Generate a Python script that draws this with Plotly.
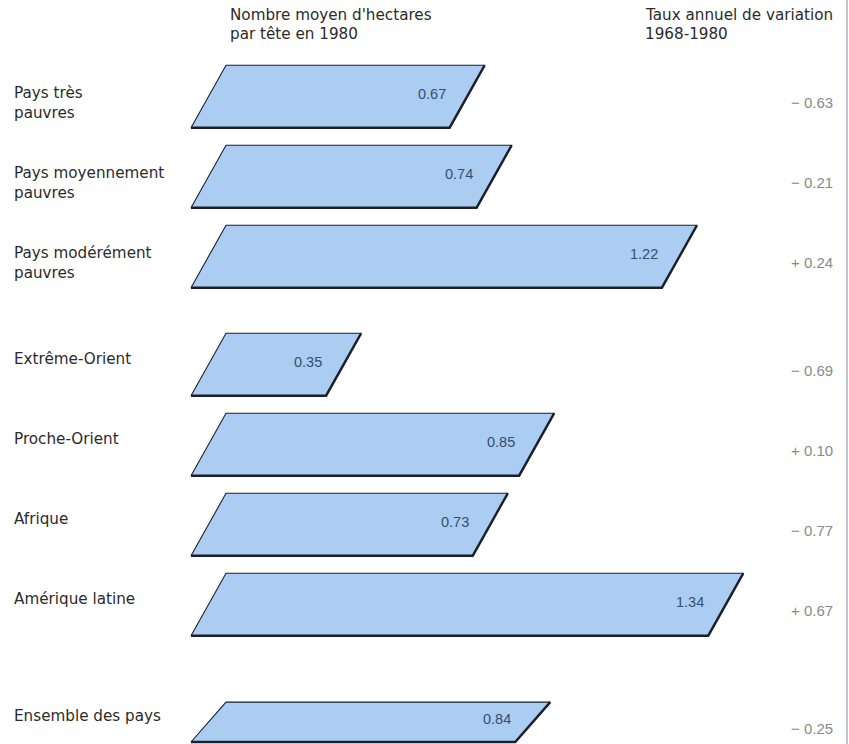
import plotly.graph_objects as go

# Hectares per head in 1980 and annual rate of change 1968-1980
categories = [
    "Pays très<br>pauvres",
    "Pays moyennement<br>pauvres",
    "Pays modérément<br>pauvres",
    "Extrême-Orient",
    "Proche-Orient",
    "Afrique",
    "Amérique latine",
    "Ensemble des pays",
]
hectares = [0.67, 0.74, 1.22, 0.35, 0.85, 0.73, 1.34, 0.84]
variation = [-0.63, -0.21, 0.24, -0.69, 0.10, -0.77, 0.67, -0.25]
groups = [0, 0, 0, 1, 1, 1, 1, 2]

W, H = 849, 744
PX_PER_HA = 386.0          # horizontal scale
X0_PX = 226.0              # pixel of x = 0 (top-left corner of bars)
ROW_PX = 80.0              # row pitch
FIRST_ROW_PX = 96.5
GROUP_OFFSET = [0.0, 0.35, 0.96]
SLANT = 35.0 / PX_PER_HA   # horizontal slant of the parallelograms
HALF = 0.39                # half bar height in row units
BOTTOM_LIMIT = (742 - FIRST_ROW_PX) / ROW_PX   # lowest edge a bar may reach

FILL = "#aacdf1"
EDGE = "#1c1f2a"
VALUE_COL = "#34506f"
LABEL_COL = "#2b2b2b"
RATE_COL = "#8a8a8a"
LABEL_FONT = "DejaVu Sans"
LABEL_SIZE = 15.2

xr = [-X0_PX / PX_PER_HA, (W - X0_PX) / PX_PER_HA]
yr = [(H - FIRST_ROW_PX) / ROW_PX, -FIRST_ROW_PX / ROW_PX]

rows = [i + GROUP_OFFSET[g] for i, g in enumerate(groups)]

fig = go.Figure()
annotations = []

for cat, v, rate, yc in zip(categories, hectares, variation, rows):
    top = yc - HALF
    bot = min(yc + HALF, BOTTOM_LIMIT)
    mid = (top + bot) / 2
    # parallelogram body
    fig.add_trace(go.Scatter(
        x=[-SLANT, 0, v, v - SLANT, -SLANT],
        y=[bot, top, top, bot, bot],
        mode="lines", fill="toself", fillcolor=FILL,
        line=dict(color=EDGE, width=1.1),
        hoverinfo="skip", showlegend=False,
    ))
    # heavier bottom and right edges
    fig.add_trace(go.Scatter(
        x=[v, v - SLANT, -SLANT],
        y=[top, bot, bot],
        mode="lines", line=dict(color=EDGE, width=2.4),
        hoverinfo="skip", showlegend=False,
    ))
    # value inside the bar
    annotations.append(dict(
        x=v, y=mid, xref="x", yref="y", text=f"{v:.2f}",
        xanchor="right", yanchor="middle", xshift=-37, yshift=3,
        showarrow=False,
        font=dict(family="Liberation Sans", size=14.5, color=VALUE_COL),
    ))
    # row label
    two_lines = "<br>" in cat
    annotations.append(dict(
        x=12 / W, y=mid, xref="paper", yref="y", text=cat,
        xanchor="left", yanchor="middle", align="left",
        yshift=-6 if two_lines else 6,
        showarrow=False,
        font=dict(family=LABEL_FONT, size=LABEL_SIZE, color=LABEL_COL),
    ))
    # annual rate of change
    sign = "+" if rate >= 0 else "\u2212"
    annotations.append(dict(
        x=835 / W, y=mid, xref="paper", yref="y",
        text=f"{sign} {abs(rate):.2f}",
        xanchor="right", yanchor="middle", yshift=-6,
        showarrow=False,
        font=dict(family="Liberation Sans", size=15, color=RATE_COL),
    ))

# column headers
header_font = dict(family=LABEL_FONT, size=LABEL_SIZE, color=LABEL_COL)
for x_px, lines in [(228, ["Nombre moyen d'hectares", "par tête en 1980"]),
                    (643, ["Taux annuel de variation", "1968-1980"])]:
    for k, line in enumerate(lines):
        annotations.append(dict(
            x=x_px / W, y=1 - (15 + 19 * k) / H, xref="paper", yref="paper",
            text=line, xanchor="left", yanchor="middle", showarrow=False,
            font=header_font,
        ))

fig.update_layout(
    width=W, height=H,
    margin=dict(l=0, r=0, t=0, b=0),
    paper_bgcolor="white", plot_bgcolor="white",
    xaxis=dict(range=xr, visible=False, fixedrange=True),
    yaxis=dict(range=yr, visible=False, fixedrange=True),
    annotations=annotations,
    shapes=[dict(type="line", xref="paper", yref="paper",
                 x0=1 - 2 / W, x1=1 - 2 / W, y0=0, y1=1,
                 line=dict(color="#a9b2c0", width=1.5))],
)

fig.write_html("out.html")
